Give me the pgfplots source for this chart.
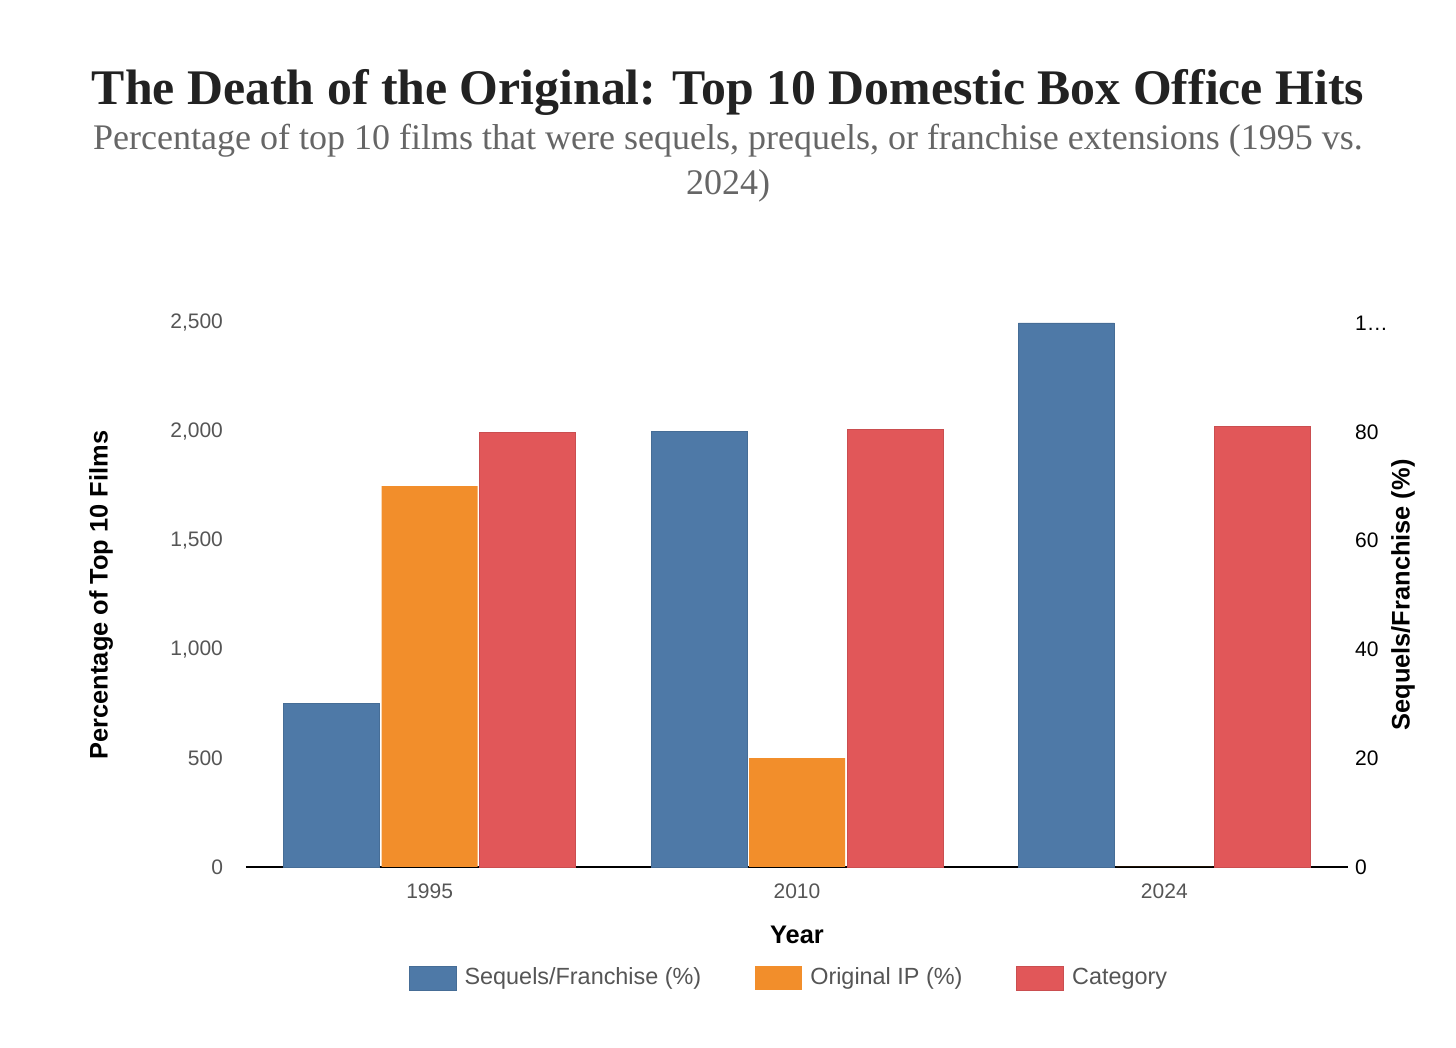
\documentclass[border=0pt]{standalone}
\usepackage{fontspec}
\setmainfont{Liberation Sans}
\newfontfamily\titlefont{Liberation Serif}
\usepackage{pgfplots}
\pgfplotsset{compat=1.18}
\definecolor{cblue}{HTML}{4E79A7}
\definecolor{corange}{HTML}{F28E2B}
\definecolor{cred}{HTML}{E15759}
\definecolor{cgrid}{HTML}{E6E6E6}
\definecolor{ctick}{HTML}{555555}
\definecolor{csub}{HTML}{666666}
\definecolor{ctitle}{HTML}{222222}
\newcommand{\onedots}{1\textellipsis}
\pgfplotsset{base/.style={
  at={(0pt,0pt)}, anchor=south west,
  scale only axis, width=551pt, height=272pt,
  xmin=-0.5, xmax=2.5,
  major tick length=0pt,
}}
\begin{document}
\begin{tikzpicture}[x=1pt,y=1pt]
\path[use as bounding box] (-123,-90.5) rectangle (605,433.5);
\node[anchor=base,text=ctitle,font=\titlefont\bfseries\fontsize{24.9}{28}\selectfont] at (241,381) {The Death of the Original: Top 10 Domestic Box Office Hits};
\node[anchor=base,text=csub,font=\titlefont\fontsize{18}{20}\selectfont] at (241,358.5) {Percentage of top 10 films that were sequels, prequels, or franchise extensions (1995 vs.};
\node[anchor=base,text=csub,font=\titlefont\fontsize{18}{20}\selectfont] at (241,336) {2024)};
\begin{axis}[base,
  ymin=0, ymax=2500,
  axis lines*=left,
  axis y line=none,
  x axis line style={black, line width=0.6pt, -},
  xtick={0,1,2}, xticklabels={1995,2010,2024},
  ytick={0,500,1000,1500,2000,2500},
  ymajorgrids, grid style={cgrid, line width=0.6pt},
  ybar, bar width=48pt,
  xticklabel style={font=\fontsize{10.5}{12}\selectfont, text=ctick, yshift=-5pt},
  legend style={at={(273pt,-55.5pt)}, anchor=center, draw=none, legend columns=3,
    font=\fontsize{11.7}{13}\selectfont, text=ctick,
    nodes={inner xsep=4pt},
    /tikz/every even column/.append style={column sep=23pt}},
  legend image code/.code={\fill[#1, draw opacity=1] (0pt,-6pt) rectangle (23.5pt,6pt);},
  clip=false,
]
\addplot[fill=cblue, draw=cblue!90!black, line width=0.4pt, bar shift=-49pt] coordinates {(0,750) (1,2000) (2,2500)};
\addlegendentry{Sequels/Franchise (\%)}
\addplot[fill=corange, draw=none, bar shift=0pt] coordinates {(0,1750) (1,500) (2,0)};
\addlegendentry{Original IP (\%)}
\addplot[fill=cred, draw=cred!90!black, line width=0.4pt, bar shift=49pt] coordinates {(0,1995) (1,2010) (2,2024)};
\addlegendentry{Category}
\end{axis}
% left tick labels
\begin{axis}[base,
  ymin=0, ymax=2500,
  axis x line=none, axis y line*=left, y axis line style={draw=none},
  ytick={0,500,1000,1500,2000,2500},
  yticklabels={0,500,{1,000},{1,500},{2,000},{2,500}},
  yticklabel style={font=\fontsize{10.5}{12}\selectfont, text=ctick, xshift=-8pt},
]
\addplot[draw=none] coordinates {(0,0)};
\end{axis}
% right axis
\begin{axis}[base,
  ymin=0, ymax=100,
  axis x line=none, axis y line*=right, y axis line style={draw=none},
  ytick={0,20,40,60,80,100},
  yticklabels={0,20,40,60,80,\onedots},
  yticklabel style={font=\fontsize{10.5}{12}\selectfont, text=black, xshift=0pt},
]
\addplot[draw=none] coordinates {(0,0)};
\end{axis}
\node[rotate=90, font=\bfseries\fontsize{12.7}{14}\selectfont] at (-72.5,136) {Percentage of Top 10 Films};
\node[rotate=90, font=\bfseries\fontsize{12.7}{14}\selectfont] at (578.5,136) {Sequels/Franchise (\%)};
\node[font=\bfseries\fontsize{12.7}{14}\selectfont] at (275.5,-34) {Year};
\end{tikzpicture}
\end{document}
